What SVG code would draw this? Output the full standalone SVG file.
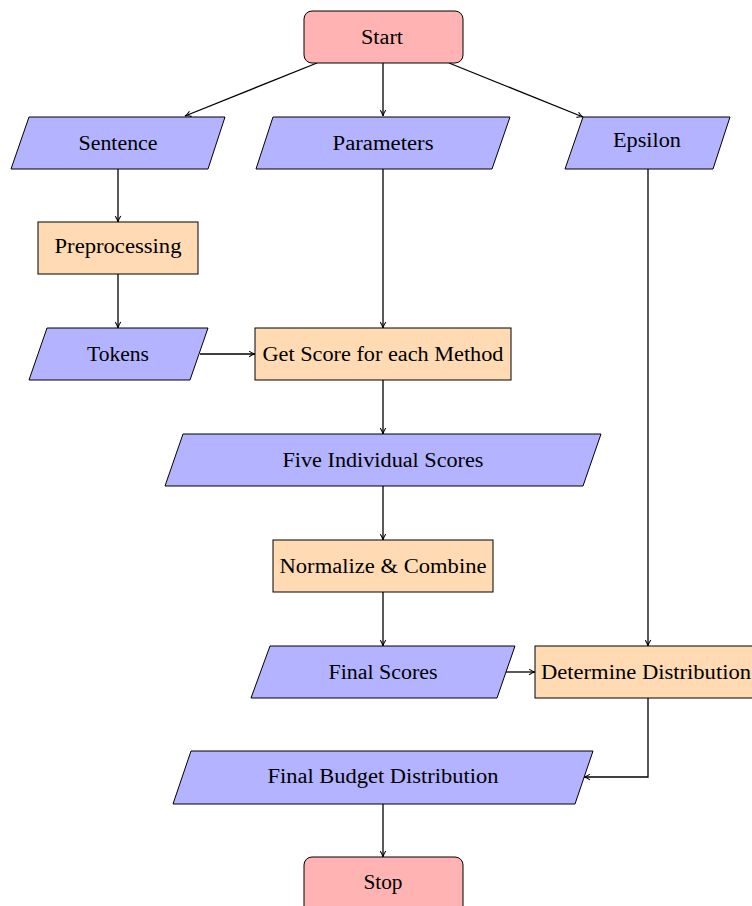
<svg xmlns="http://www.w3.org/2000/svg" width="752" height="906" viewBox="0 0 752 906">
<defs>
<style>
.io{fill:#b3b3ff;stroke:#000;stroke-width:1}
.pr{fill:#ffdab3;stroke:#000;stroke-width:1}
.se{fill:#ffb3b3;stroke:#000;stroke-width:1}
text{font-family:"Liberation Serif","DejaVu Serif",serif;font-size:20px;fill:#000;text-anchor:middle;dominant-baseline:central}
.c{fill:none;stroke:#000;stroke-width:1.3;marker-end:url(#ah)}
</style>
<marker id="ah" viewBox="0 0 10 10" refX="9.5" refY="5" markerWidth="7" markerHeight="7" markerUnits="userSpaceOnUse" orient="auto">
<path d="M1,1 Q5,4 9.5,5 Q5,6 1,9" fill="none" stroke="#000" stroke-width="1.5"/>
</marker>
</defs>
<g id="connectors">
<path class="c" d="M317,63 L185,116"/>
<path class="c" d="M383,63 L383,116"/>
<path class="c" d="M449,63 L583,117"/>
<path class="c" d="M118,169 L118,222"/>
<path class="c" d="M118,274 L118,328"/>
<path class="c" d="M383,169 L383,328"/>
<path class="c" d="M200,354 L255,354"/>
<path class="c" d="M383,380 L383,434"/>
<path class="c" d="M383,486 L383,540"/>
<path class="c" d="M383,592 L383,646"/>
<path class="c" d="M506,672 L535,672"/>
<path class="c" d="M648,169 L648,646"/>
<path class="c" d="M648,698 L648,777 L584,777"/>
<path class="c" d="M383,804 L383,857"/>
</g>
<g id="start"><rect class="se" x="304" y="11" width="159" height="52" rx="8"/><text x="382" y="37" textLength="42" lengthAdjust="spacingAndGlyphs">Start</text></g>
<g id="sentence"><polygon class="io" points="29,117 225,117 208,169 11,169"/><text x="118" y="143" textLength="79" lengthAdjust="spacingAndGlyphs">Sentence</text></g>
<g id="parameters"><polygon class="io" points="273,117 510,117 492,169 256,169"/><text x="383" y="143" textLength="101" lengthAdjust="spacingAndGlyphs">Parameters</text></g>
<g id="epsilon"><polygon class="io" points="583,117 730,117 713,169 565,169"/><text x="647" y="140" textLength="68" lengthAdjust="spacingAndGlyphs">Epsilon</text></g>
<g id="preprocessing"><rect class="pr" x="38" y="222" width="160" height="52"/><text x="118" y="246" textLength="127" lengthAdjust="spacingAndGlyphs">Preprocessing</text></g>
<g id="tokens"><polygon class="io" points="47,328 208,328 190,380 29,380"/><text x="118" y="354" textLength="62" lengthAdjust="spacingAndGlyphs">Tokens</text></g>
<g id="getscore"><rect class="pr" x="255" y="328" width="256" height="52"/><text x="383" y="354" textLength="241" lengthAdjust="spacingAndGlyphs">Get Score for each Method</text></g>
<g id="five"><polygon class="io" points="183,434 601,434 583,486 165,486"/><text x="383" y="460" textLength="201" lengthAdjust="spacingAndGlyphs">Five Individual Scores</text></g>
<g id="normalize"><rect class="pr" x="273" y="540" width="220" height="52"/><text x="383" y="566" textLength="207" lengthAdjust="spacingAndGlyphs">Normalize &amp; Combine</text></g>
<g id="finalscores"><polygon class="io" points="270,646 515,646 497,698 251,698"/><text x="383" y="672" textLength="109" lengthAdjust="spacingAndGlyphs">Final Scores</text></g>
<g id="determine"><rect class="pr" x="535" y="646" width="222" height="52"/><text x="646" y="672" textLength="210" lengthAdjust="spacingAndGlyphs">Determine Distribution</text></g>
<g id="finalbudget"><polygon class="io" points="191,751 593,751 575,804 173,804"/><text x="383" y="776" textLength="231" lengthAdjust="spacingAndGlyphs">Final Budget Distribution</text></g>
<g id="stop"><rect class="se" x="304" y="857" width="159" height="60" rx="8"/><text x="383" y="882" textLength="39" lengthAdjust="spacingAndGlyphs">Stop</text></g>
</svg>
